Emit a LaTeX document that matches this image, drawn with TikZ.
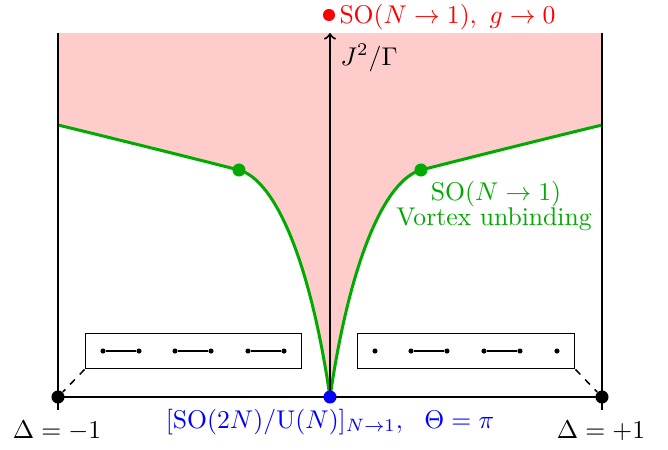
\documentclass[tikz,border=0pt]{standalone}
\usetikzlibrary{backgrounds}
\definecolor{pinkfill}{RGB}{255,204,204}
\definecolor{cgreen}{RGB}{0,170,0}
\begin{document}
\begin{tikzpicture}[x=0.39pt,y=-0.39pt,
  bigdot/.style={circle,fill,inner sep=0pt,minimum size=5.1pt},
  gdot/.style={circle,fill=cgreen,inner sep=0pt,minimum size=5.1pt},
  sdot/.style={circle,fill,inner sep=0pt,minimum size=2pt},
  axisline/.style={line width=0.78pt},
  curvest/.style={cgreen,line width=1.17pt},
  boxst/.style={draw,line width=0.4pt,inner sep=0pt},
  pairline/.style={line width=0.78pt},
  dashst/.style={line width=0.6pt,dash pattern=on 2.7pt off 2.7pt}]
\useasboundingbox (0,0) rectangle (668,449);
% coordinates
\coordinate (Ltop) at (58,33);
\coordinate (Lbot) at (58,410);
\coordinate (Rtop) at (602,33);
\coordinate (Rbot) at (602,410);
\coordinate (Otop) at (330,33);
\coordinate (Lc) at (58,125);
\coordinate (Rc) at (602,125);
% dots
\node[bigdot] (L) at (58,397) {};
\node[bigdot] (R) at (602,397) {};
\node[bigdot,fill=blue] (O) at (330,397) {};
\node[bigdot,fill=red,minimum size=4.7pt] (T) at (329,15) {};
\node[gdot] (GL) at (239,170) {};
\node[gdot] (GR) at (421,170) {};
\begin{pgfonlayer}{background}
\fill[pinkfill] (Ltop) -- (Rtop) -- (Rc)
  .. controls (540,140) and (460,160) .. (GR.center)
  .. controls (385,180) and (350,260) .. (O.center)
  .. controls (310,260) and (275,180) .. (GL.center)
  .. controls (200,160) and (120,140) .. (Lc) -- cycle;
\draw[curvest] (Lc) .. controls (120,140) and (200,160) .. (GL.center)
  .. controls (275,180) and (310,260) .. (O.center);
\draw[curvest] (Rc) .. controls (540,140) and (460,160) .. (GR.center)
  .. controls (385,180) and (350,260) .. (O.center);
\draw[axisline] (Ltop) -- (Lbot);
\draw[axisline] (Rtop) -- (Rbot);
\draw[axisline] (L.center) -- (R.center);
\draw[axisline,->] (O.center) -- (Otop);
\end{pgfonlayer}
% boxes
\node[boxst,minimum width=84.6pt,minimum height=14pt] (lbox) at (193.5,351) {};
\node[boxst,minimum width=85pt,minimum height=14pt] (rbox) at (466,351) {};
\node[sdot] (a1) at (103,351) {};
\node[sdot] (a2) at (139,351) {};
\node[sdot] (a3) at (175,351) {};
\node[sdot] (a4) at (211,351) {};
\node[sdot] (a5) at (248,351) {};
\node[sdot] (a6) at (284,351) {};
\draw[pairline] (a1) -- (a2);
\draw[pairline] (a3) -- (a4);
\draw[pairline] (a5) -- (a6);
\node[sdot] (b1) at (375,351) {};
\node[sdot] (b2) at (411,351) {};
\node[sdot] (b3) at (447,351) {};
\node[sdot] (b4) at (484,351) {};
\node[sdot] (b5) at (520,351) {};
\node[sdot] (b6) at (557,351) {};
\draw[pairline] (b2) -- (b3);
\draw[pairline] (b4) -- (b5);
\draw[dashst] (lbox.south west) -- (L);
\draw[dashst] (rbox.south east) -- (R);
% labels
\node[red,anchor=base west,inner sep=0pt] (tl) at (339,23) {$\mathrm{SO}(N\to1),\ g\to0$};
\node[anchor=base west,inner sep=0pt] (yl) at (340,65) {$J^2/\Gamma$};
\node[cgreen,anchor=base,inner sep=0pt] (g1) at (496,200) {$\mathrm{SO}(N\to1)$};
\node[cgreen,anchor=base,inner sep=0pt] (g2) at (494,225) {Vortex unbinding};
\node[blue,anchor=base,inner sep=0pt] (bl) at (330,428) {$[\mathrm{SO}(2N)/\mathrm{U}(N)]_{N\to1},\ \ \Theta=\pi$};
\node[anchor=base,inner sep=0pt] (dl) at (57,438) {$\Delta=-1$};
\node[anchor=base,inner sep=0pt] (dr) at (601,438) {$\Delta=+1$};
\end{tikzpicture}
\end{document}
